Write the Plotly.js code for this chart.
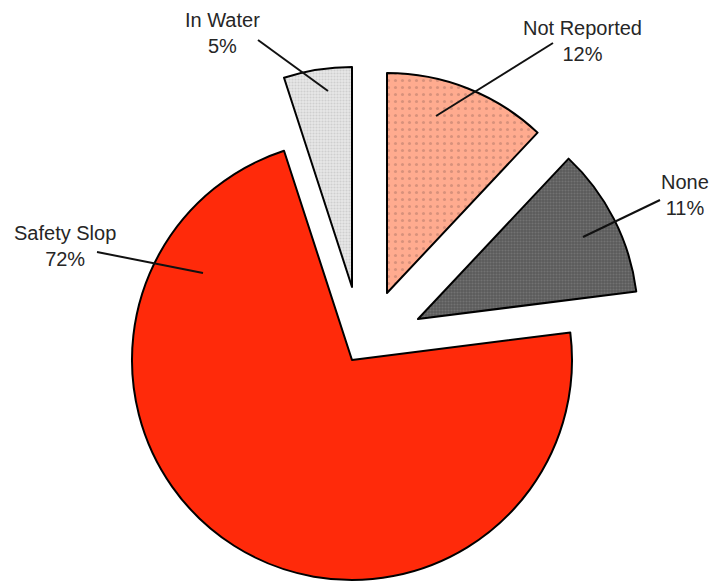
<!DOCTYPE html>
<html><head><meta charset="utf-8">
<script src="https://cdn.plot.ly/plotly-3.0.1.min.js"></script>
<style>html,body{margin:0;padding:0;background:#fff}#chart{width:712px;height:584px}</style>
</head><body><div id="chart"></div>
<script>
// ---- data ----
const categories = ['Not Reported', 'None', 'Safety Slop', 'In Water'];
const values = [12, 11, 72, 5];
const pctLabels = ['12%', '11%', '72%', '5%'];

// ---- styling / layout (not data) ----
const W = 712, H = 584, R = 220;
const sliceColors = ['#ffab8f', '#5b5b5b', '#ff2a0a', '#e8e8e8'];
const patShape = ['.', '.', '', '.'];
const patFg = ['#d8917b', '#727272', '#ff2a0a', '#cfcfcf'];
const patSize = [7, 3, 6, 3];
const patSolid = [0.15, 0.4, 0.1, 0.4];
// exploded centre of each slice, pixels
const centres = [[387, 293], [418, 319], [352, 360], [352, 287]];
// label block centres and leader lines, pixels
const labelPos = [[582, 41], [685, 195], [65, 246], [222, 33]];
const leaders = [[[553, 43], [436, 116]], [[660, 200], [583, 237]], [[97, 252], [203, 273]], [[258, 40], [328, 91]]];

const px = x => x / W, py = y => 1 - y / H;
const TR = 'rgba(0,0,0,0)';

const traces = categories.map((c, i) => {
  const [cx, cy] = centres[i];
  const own = j => j === i;
  return {
    type: 'pie',
    labels: categories,
    values: values,
    sort: false,
    direction: 'clockwise',
    rotation: 0,
    textinfo: 'none',
    hoverinfo: 'skip',
    showlegend: false,
    domain: {x: [px(cx - R), px(cx + R)], y: [py(cy + R), py(cy - R)]},
    marker: {
      colors: categories.map((_, j) => own(j) ? sliceColors[i] : TR),
      line: {color: '#000', width: categories.map((_, j) => own(j) ? 2 : 0)},
      pattern: {
        shape: categories.map((_, j) => own(j) ? patShape[i] : ''),
        bgcolor: categories.map((_, j) => own(j) ? sliceColors[i] : TR),
        fgcolor: categories.map((_, j) => own(j) ? patFg[i] : TR),
        size: categories.map((_, j) => patSize[j]),
        solidity: categories.map((_, j) => patSolid[j])
      }
    }
  };
});

const annotations = categories.map((c, i) => ({
  xref: 'paper', yref: 'paper',
  x: px(labelPos[i][0]), y: py(labelPos[i][1]),
  xanchor: 'center', yanchor: 'middle', align: 'center',
  text: c + '<br>' + pctLabels[i],
  showarrow: false,
  font: {family: 'Liberation Sans, Arial, sans-serif', size: 20, color: '#262626'}
}));

const shapes = leaders.map(l => ({
  type: 'line', xref: 'paper', yref: 'paper',
  x0: px(l[0][0]), y0: py(l[0][1]), x1: px(l[1][0]), y1: py(l[1][1]),
  line: {color: '#111', width: 2}
}));

Plotly.newPlot('chart', traces, {
  width: W, height: H,
  margin: {l: 0, r: 0, t: 0, b: 0},
  paper_bgcolor: '#fff',
  showlegend: false,
  annotations: annotations,
  shapes: shapes
}, {displayModeBar: false, staticPlot: true});
</script></body></html>
